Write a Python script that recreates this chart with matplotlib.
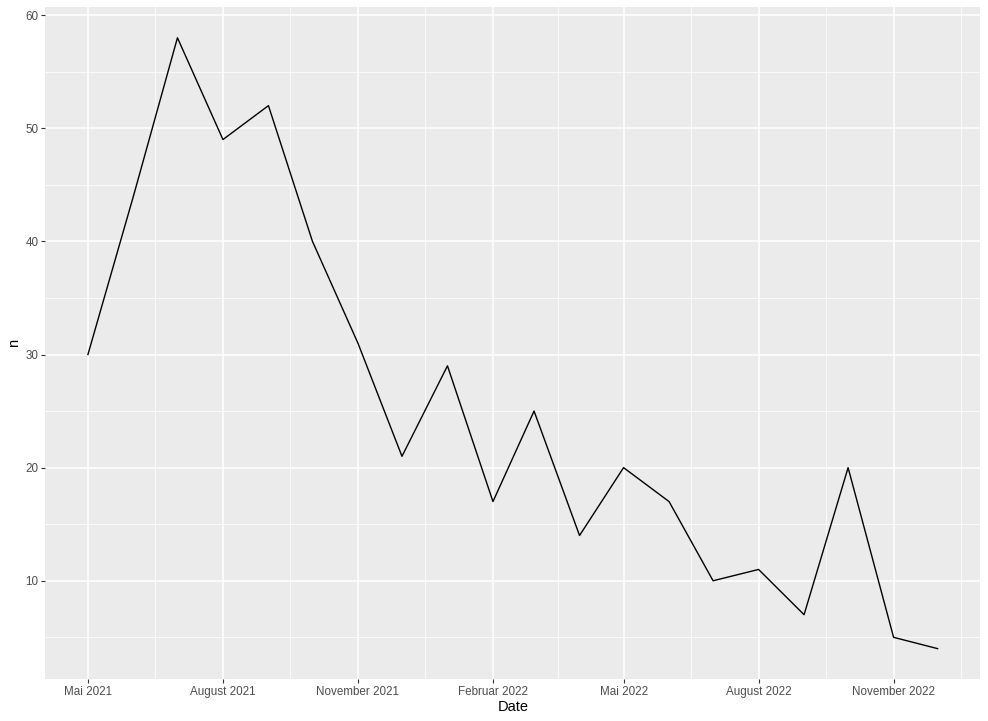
import matplotlib
matplotlib.use("Agg")
import matplotlib.pyplot as plt
import matplotlib.dates as mdates
import numpy as np
import pandas as pd

# monthly counts, first day of each month
months = pd.date_range("2021-05-01", "2022-12-01", freq="MS")
counts = [30, 44, 58, 49, 52, 40, 31, 21, 29, 17, 25, 14, 20, 17, 10, 11, 7, 20, 5, 4]

tick_dates = pd.to_datetime(["2021-05-01", "2021-08-01", "2021-11-01", "2022-02-01",
                             "2022-05-01", "2022-08-01", "2022-11-01"])
tick_labels = ["Mai 2021", "August 2021", "November 2021", "Februar 2022",
               "Mai 2022", "August 2022", "November 2022"]
y_ticks = [10, 20, 30, 40, 50, 60]

plt.rcParams['font.family'] = ['Liberation Sans', 'DejaVu Sans']

fig = plt.figure(figsize=(9.88, 7.21), dpi=100)
ax = fig.add_axes([0.046, 0.058, 0.946, 0.932])
ax.set_facecolor("#EBEBEB")

ax.plot(months, counts, color="black", lw=1.0, zorder=3)

tnum = mdates.date2num(tick_dates)
ax.set_xticks(tnum)
ax.set_xticklabels(tick_labels)
ax.set_yticks(y_ticks)

# minor breaks halfway between majors
step = tnum[1] - tnum[0]
xminor = list((tnum[:-1] + tnum[1:]) / 2) + [tnum[-1] + step / 2]
ax.set_xticks(xminor, minor=True)
ax.set_yticks([5, 15, 25, 35, 45, 55], minor=True)

# limits like ggplot's 5% expansion (set after ticks so they stick)
x0 = mdates.date2num(months[0])
x1 = mdates.date2num(months[-1])
dx = (x1 - x0) * 0.05
ax.set_xlim(x0 - dx, x1 + dx)
ymin, ymax = min(counts), max(counts)
dy = (ymax - ymin) * 0.05
ax.set_ylim(ymin - dy, ymax + dy)

ax.grid(which="major", color="white", lw=1.1)
ax.grid(which="minor", color="white", lw=0.55)
ax.set_axisbelow(True)

for s in ax.spines.values():
    s.set_visible(False)

ax.tick_params(which="major", length=3, width=0.8, color="#333333",
               labelsize=8.4, labelcolor="#4D4D4D", pad=2)
ax.tick_params(which="minor", length=0)

ax.set_xlabel("Date", fontsize=10.5, labelpad=1)
ax.set_ylabel("n", fontsize=10.5, labelpad=3)

fig.savefig("out.png", dpi=100)
